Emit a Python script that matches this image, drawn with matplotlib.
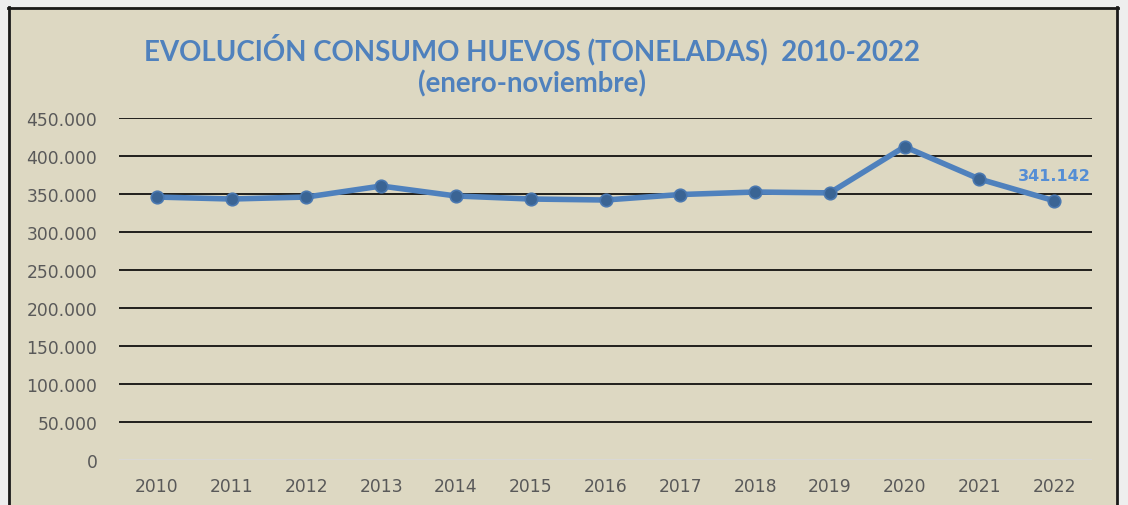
import matplotlib
matplotlib.use("Agg")
import matplotlib.pyplot as plt
from matplotlib.patches import Rectangle
from matplotlib.ticker import FuncFormatter

years = ["2010", "2011", "2012", "2013", "2014", "2015", "2016",
         "2017", "2018", "2019", "2020", "2021", "2022"]
values = [346000, 343400, 346000, 360500, 347400, 343400, 342100,
          349300, 352600, 351500, 412200, 369700, 341142]
yticks = [0, 50000, 100000, 150000, 200000, 250000, 300000, 350000, 400000, 450000]
title1 = "EVOLUCIÓN CONSUMO HUEVOS (TONELADAS)  2010-2022"
title2 = "(enero-noviembre)"
label_last = "341.142"

W, H = 1128, 506
fig = plt.figure(figsize=(W / 100, H / 100), dpi=100)
fig.patch.set_facecolor("#EEEEEE")

# tan panel with black border (left, top, right)
panel = Rectangle((8 / W, 0), (1118 - 8) / W, (H - 8) / H, transform=fig.transFigure,
                  facecolor="#DDD8C2", edgecolor="none", zorder=-10)
fig.patches.append(panel)
for xs, ys in [([9 / W, 9 / W], [0, (H - 8) / H]),
               ([1117 / W, 1117 / W], [0, (H - 8) / H]),
               ([8 / W, 1118 / W], [(H - 8.5) / H, (H - 8.5) / H])]:
    fig.add_artist(plt.Line2D(xs, ys, transform=fig.transFigure, color="#1a1a1a", lw=2, zorder=-5))

left, right = 119.5 / W, 1091.5 / W
bottom, top = 1 - 461 / H, 1 - 119 / H
ax = fig.add_axes([left, bottom, right - left, top - bottom])
ax.set_zorder(5)
ax.set_facecolor("none")

x = list(range(len(years)))
ax.plot(x, values, color="#4F81BD", lw=4, marker="o", markersize=9,
        markerfacecolor="#3A6494", markeredgecolor="#4A78B0", markeredgewidth=1.2,
        zorder=3, solid_joinstyle="round")

ax.set_xlim(-0.5, len(years) - 0.5)
ax.set_ylim(0, 450000)
ax.set_yticks(yticks)
ax.yaxis.set_major_formatter(FuncFormatter(lambda v, p: "0" if v == 0 else f"{int(v):,}".replace(",", ".")))
ax.set_xticks(x)
ax.set_xticklabels(years)
for t in yticks:
    ax.axhline(t, color="#000000" if t > 0 else "#D9D9D9", lw=1.2, zorder=1)
for s in ax.spines.values():
    s.set_visible(False)
ax.tick_params(axis="both", length=0, colors="#595959", labelcolor="#595959")
ax.tick_params(axis="y", pad=16)
ax.tick_params(axis="x", pad=12)
for lab in ax.get_xticklabels() + ax.get_yticklabels():
    lab.set_family("DejaVu Sans")
    lab.set_fontsize(12.3)

ax.annotate(label_last, (x[-1], values[-1]), xytext=(0, 18), textcoords="offset points",
            ha="center", va="center", fontsize=11.5, fontweight="bold", color="#558ED5",
            family="DejaVu Sans")

fig.text(532 / W, 1 - 50 / H, title1, ha="center", va="center", fontsize=19.9,
         fontweight="bold", color="#4F81BD", family="Lato")
fig.text(532 / W, 1 - 84 / H, title2, ha="center", va="center", fontsize=19.9,
         fontweight="bold", color="#4F81BD", family="Lato")

fig.savefig("out.png", dpi=100, facecolor=fig.get_facecolor())
